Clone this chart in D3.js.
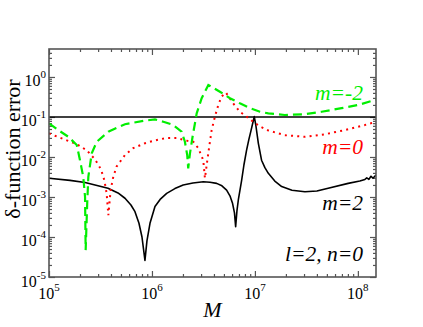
<!DOCTYPE html>
<html><head><meta charset="utf-8">
<script src="https://cdn.jsdelivr.net/npm/d3@7/dist/d3.min.js"></script>
<style>body{margin:0;background:#fff}svg{display:block}
text{font-family:"Liberation Serif","Times New Roman",Times,serif}</style>
</head><body>
<svg id="c" width="423" height="327"></svg>
<script>
// ---- data ----
const xDomain = [1e5, 1.5e8];
const yDomain = [1e-5, 5];
const xMajorTicks = [1e5, 1e6, 1e7, 1e8];
const xTickExp = ["5", "6", "7", "8"];
const yMajorTicks = [1e-5, 1e-4, 1e-3, 1e-2, 1e-1, 1e0];
const yTickExp = ["-5", "-4", "-3", "-2", "-1", "0"];
const refLine = 0.1;

// m=2 (black, solid)
const m2M =   [1.00e5,1.60e5,2.24e5,3.74e5,4.68e5,5.47e5,6.25e5,6.84e5,7.48e5,8.00e5,8.55e5,8.94e5,9.57e5,1.07e6,1.20e6,1.39e6,1.67e6,2.01e6,2.50e6,3.15e6,3.66e6,4.25e6,4.78e6,5.31e6,5.72e6,6.05e6,6.33e6,6.50e6,6.69e6,6.92e6,7.43e6,7.82e6,8.30e6,8.75e6,9.15e6,9.57e6,9.85e6,1.02e7,1.08e7,1.16e7,1.25e7,1.35e7,1.56e7,1.82e7,2.29e7,3.06e7,4.00e7,5.15e7,8.05e7,1.045e8,1.17e8,1.22e8,1.28e8,1.34e8,1.40e8,1.50e8];
const m2Err = [2.95e-3,2.6e-3,2.3e-3,1.66e-3,1.26e-3,9.3e-4,6.3e-4,4.3e-4,2.2e-4,1.0e-4,2.6e-5,8e-5,2.2e-4,5.8e-4,8.7e-4,1.23e-3,1.62e-3,2.0e-3,2.24e-3,2.4e-3,2.34e-3,2.19e-3,1.9e-3,1.48e-3,1.07e-3,7.1e-4,4.0e-4,1.8e-4,4.5e-4,8.9e-4,2.6e-3,6.3e-3,1.48e-2,2.8e-2,4.5e-2,7.4e-2,0.102,6.3e-2,2.2e-2,8.3e-3,5.4e-3,3.9e-3,2.5e-3,1.82e-3,1.48e-3,1.35e-3,1.41e-3,1.66e-3,2.19e-3,2.5e-3,2.75e-3,3.0e-3,2.75e-3,3.3e-3,2.95e-3,3.55e-3];

// m=0 (red, dotted)
const m0M =   [1.00e5,1.14e5,1.49e5,1.86e5,2.32e5,2.80e5,3.20e5,3.45e5,3.63e5,3.77e5,3.97e5,4.21e5,4.54e5,5.47e5,6.58e5,8.55e5,1.07e6,1.39e6,1.74e6,2.09e6,2.52e6,2.82e6,3.15e6,3.27e6,3.45e6,3.60e6,3.80e6,4.09e6,4.41e6,4.75e6,5.23e6,6.15e6,7.15e6,8.30e6,9.62e6,1.12e7,1.35e7,1.95e7,3.06e7,4.79e7,7.48e7,1.17e8,1.50e8];
const m0Err = [3.9e-2,3.4e-2,2.6e-2,2.1e-2,1.48e-2,8.7e-3,4.9e-3,2.6e-3,1.23e-3,3.5e-4,1.48e-3,3.2e-3,5.8e-3,1.12e-2,1.66e-2,2.2e-2,2.6e-2,3.0e-2,3.0e-2,2.6e-2,2.4e-2,1.66e-2,8.3e-3,2.95e-3,8.3e-3,1.82e-2,4.7e-2,0.102,0.2,0.324,0.407,0.219,0.135,0.102,7.6e-2,5.8e-2,4.6e-2,3.5e-2,3.2e-2,3.7e-2,4.7e-2,6.3e-2,7.6e-2];

// m=-2 (green, dashed)
const mn2M =   [1.00e5,1.23e5,1.54e5,1.86e5,2.00e5,2.15e5,2.24e5,2.27e5,2.35e5,2.41e5,2.60e5,2.91e5,3.77e5,5.47e5,8.55e5,1.07e6,1.29e6,1.61e6,1.94e6,2.09e6,2.20e6,2.25e6,2.34e6,2.48e6,2.72e6,3.04e6,3.53e6,4.57e6,5.72e6,7.15e6,8.93e6,1.12e7,1.35e7,1.95e7,3.06e7,4.44e7,6.95e7,1.01e8,1.50e8];
const mn2Err = [6.9e-2,4.7e-2,3.2e-2,2.0e-2,8.3e-3,3.2e-3,1.0e-3,4.7e-5,6.9e-4,3.2e-3,1.23e-2,2.4e-2,4.3e-2,6.6e-2,8.1e-2,8.7e-2,7.6e-2,6.3e-2,4.3e-2,2.4e-2,1.12e-2,5.2e-3,1.23e-2,3.2e-2,0.123,0.295,0.63,0.427,0.295,0.219,0.166,0.135,0.123,0.112,0.117,0.135,0.166,0.2,0.27];

const labels = ["m=-2", "m=0", "m=2", "l=2, n=0"];
// ---- chart ----
const W = 423, H = 327;
const m = {left: 49, right: 47, top: 49, bottom: 50};
const pw = W - m.left - m.right, ph = H - m.top - m.bottom;
const svg = d3.select("#c");

const x = d3.scaleLog().domain(xDomain).range([m.left, m.left + pw]);
const y = d3.scaleLog().domain(yDomain).range([m.top + ph, m.top]);

svg.append("defs").append("clipPath").attr("id","clip")
  .append("rect").attr("x", m.left).attr("y", m.top).attr("width", pw).attr("height", ph);

function minors(domain){
  const out = [];
  const lo = Math.floor(Math.log10(domain[0])), hi = Math.ceil(Math.log10(domain[1]));
  for (let e = lo; e <= hi; e++) for (let k = 2; k <= 9; k++) {
    const v = k * Math.pow(10, e);
    if (v > domain[0] && v < domain[1]) out.push(v);
  }
  return out;
}
const xMin = minors(xDomain), yMin = minors(yDomain);
const tickColor = "#555";
function styleAxis(g){ g.select(".domain").remove(); g.selectAll("line").attr("stroke", tickColor).attr("stroke-width", 1.2); }

const axes = [
  [d3.axisBottom(x), `translate(0,${m.top+ph})`, xMajorTicks, xMin],
  [d3.axisTop(x), `translate(0,${m.top})`, xMajorTicks, xMin],
  [d3.axisLeft(y), `translate(${m.left},0)`, yMajorTicks, yMin],
  [d3.axisRight(y), `translate(${m.left+pw},0)`, yMajorTicks, yMin]
];
axes.forEach(([ax, tr, maj, mi]) => {
  svg.append("g").attr("transform", tr).call(ax.tickValues(maj).tickSize(-6).tickFormat("")).call(styleAxis);
  svg.append("g").attr("transform", tr).call(ax.tickValues(mi).tickSize(-3).tickFormat("")).call(styleAxis);
});

// reference line
svg.append("line").attr("x1", m.left).attr("x2", m.left + pw)
  .attr("y1", y(refLine)).attr("y2", y(refLine))
  .attr("stroke", "#000").attr("stroke-width", 1.4);

const line = d3.line().x(d => x(d[0])).y(d => y(d[1]));
const g = svg.append("g").attr("clip-path", "url(#clip)");
g.append("path").datum(d3.zip(m2M, m2Err)).attr("d", line)
  .attr("fill","none").attr("stroke","#000").attr("stroke-width",1.6).attr("stroke-linejoin","round");
g.append("path").datum(d3.zip(m0M, m0Err)).attr("d", line)
  .attr("fill","none").attr("stroke","#ff0000").attr("stroke-width",2).attr("stroke-dasharray","2,4.2");
g.append("path").datum(d3.zip(mn2M, mn2Err)).attr("d", line)
  .attr("fill","none").attr("stroke","#00ee00").attr("stroke-width",2.2).attr("stroke-dasharray","9,5");

// frame
svg.append("rect").attr("x", m.left).attr("y", m.top).attr("width", pw).attr("height", ph)
  .attr("fill","none").attr("stroke", tickColor).attr("stroke-width", 1.6);

// tick labels
xMajorTicks.forEach((v, i) => {
  const t = svg.append("text").attr("x", x(v)).attr("y", 299).attr("text-anchor","middle")
    .attr("font-size", 16);
  t.append("tspan").text("10");
  t.append("tspan").attr("font-size", 11).attr("dy", -8).text(xTickExp[i]);
});
yMajorTicks.forEach((v, i) => {
  const t = svg.append("text").attr("x", 46).attr("y", y(v) + 9.5).attr("text-anchor","end")
    .attr("font-size", 16);
  t.append("tspan").text("10");
  t.append("tspan").attr("font-size", 11).attr("dy", -8).text(yTickExp[i]);
});

// axis titles
svg.append("text").attr("x", m.left + pw/2).attr("y", 317).attr("text-anchor","middle")
  .attr("font-style","italic").attr("font-size", 22).text("M");
svg.append("text").attr("transform", "translate(19.5,149) rotate(-90)").attr("text-anchor","middle")
  .attr("font-size", 22).text("δ-function error");

// curve labels
const labColors = ["#00ee00", "#ff0000", "#000", "#000"];
const labY = [99.5, 154, 210, 261];
labels.forEach((s, i) => {
  svg.append("text").attr("x", 363).attr("y", labY[i]).attr("text-anchor","end")
    .attr("font-style","italic").attr("font-size", 21.5)
    .attr("fill", labColors[i]).text(s);
});
</script>
</body></html>
